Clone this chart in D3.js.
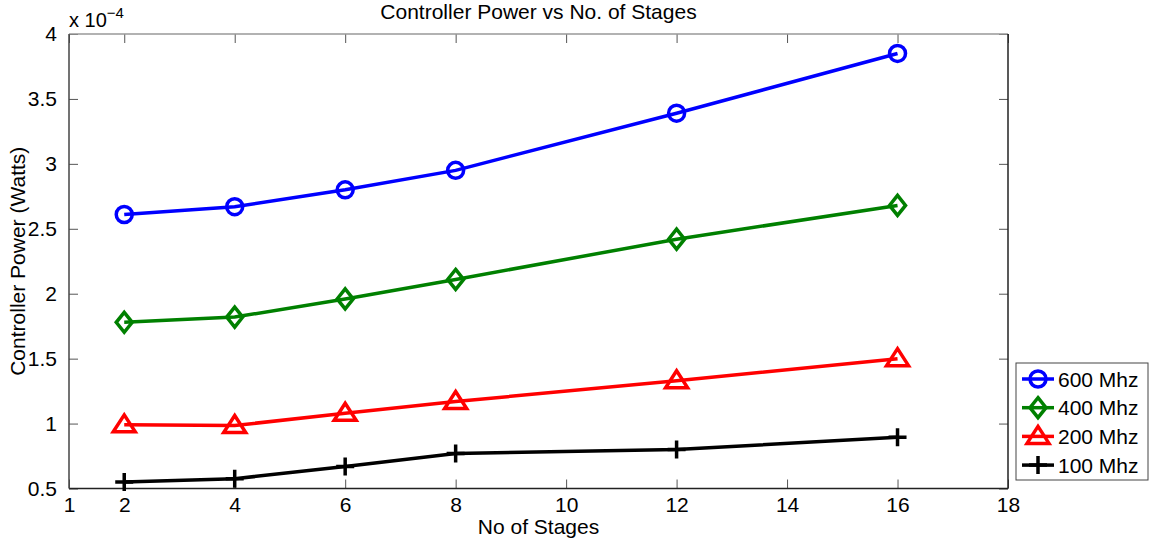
<!DOCTYPE html>
<html>
<head>
<meta charset="utf-8">
<script src="https://cdn.jsdelivr.net/npm/d3@7"></script>
<style>
  body { margin: 0; background: #fff; }
  text { font-family: "Liberation Sans", Arial, Helvetica, sans-serif; fill: #000; }
</style>
</head>
<body>
<div id="chart"></div>
<script>
// data (power in units of 1e-4 W)
var stages = [2, 4, 6, 8, 12, 16];
var p600 = [2.61, 2.67, 2.80, 2.95, 3.39, 3.85];
var p400 = [1.78, 1.82, 1.96, 2.11, 2.42, 2.68];
var p200 = [0.99, 0.985, 1.08, 1.17, 1.33, 1.50];
var p100 = [0.55, 0.575, 0.67, 0.77, 0.80, 0.895];
var seriesNames = ['600 Mhz', '400 Mhz', '200 Mhz', '100 Mhz'];
var xTicks = [1, 2, 4, 6, 8, 10, 12, 14, 16, 18];
var yTicks = [0.5, 1, 1.5, 2, 2.5, 3, 3.5, 4];

var series = [
    { name: seriesNames[0], values: p600, color: '#0000ff', marker: 'circle' },
    { name: seriesNames[1], values: p400, color: '#008000', marker: 'diamond' },
    { name: seriesNames[2], values: p200, color: '#ff0000', marker: 'triangle' },
    { name: seriesNames[3], values: p100, color: '#000000', marker: 'plus' }
];

var width = 1164, height = 544;
var plotL = 69, plotR = 1008, plotT = 34, plotB = 488.5;
var lw = 3.5;

var svg = d3.select('#chart').append('svg')
    .attr('width', width)
    .attr('height', height);

var x = d3.scaleLinear().domain([1, 18]).range([plotL, plotR]);
var y = d3.scaleLinear().domain([0.5, 4]).range([plotB, plotT]);

// axes box with inward ticks on all four sides
function styleAxis(g) {
    g.select('.domain').remove();
    g.selectAll('.tick line').attr('stroke', '#555').attr('stroke-width', 1);
    g.selectAll('text').style('font-size', '21px');
}

svg.append('g')
    .attr('transform', 'translate(0,' + plotB + ')')
    .call(d3.axisBottom(x).tickValues(xTicks).tickSize(-9).tickPadding(9).tickFormat(d3.format('d')))
    .call(styleAxis);
svg.append('g')
    .attr('transform', 'translate(0,' + plotT + ')')
    .call(d3.axisTop(x).tickValues(xTicks).tickSize(-9).tickFormat(''))
    .call(styleAxis);
svg.append('g')
    .attr('transform', 'translate(' + plotL + ',0)')
    .call(d3.axisLeft(y).tickValues(yTicks).tickSize(-9).tickPadding(12).tickFormat(d3.format('')))
    .call(styleAxis);
svg.append('g')
    .attr('transform', 'translate(' + plotR + ',0)')
    .call(d3.axisRight(y).tickValues(yTicks).tickSize(-9).tickFormat(''))
    .call(styleAxis);

svg.append('line')
    .attr('x1', plotL).attr('x2', plotR).attr('y1', plotT).attr('y2', plotT)
    .attr('stroke', '#999').attr('stroke-width', 1.5);
svg.append('line')
    .attr('x1', plotL).attr('x2', plotR).attr('y1', plotB).attr('y2', plotB)
    .attr('stroke', '#222').attr('stroke-width', 1.5);
svg.append('line')
    .attr('x1', plotL).attr('x2', plotL).attr('y1', plotT).attr('y2', plotB)
    .attr('stroke', '#444').attr('stroke-width', 1.5);
svg.append('line')
    .attr('x1', plotR).attr('x2', plotR).attr('y1', plotT).attr('y2', plotB)
    .attr('stroke', '#222').attr('stroke-width', 1.5);

// exponent label
var expo = svg.append('text').attr('x', 69).attr('y', 27).style('font-size', '20px');
expo.append('tspan').text('x 10');
expo.append('tspan').attr('dy', -9).style('font-size', '15px').text('\u22124');

// titles
svg.append('text')
    .attr('x', (plotL + plotR) / 2).attr('y', 19)
    .attr('text-anchor', 'middle')
    .style('font-size', '21px')
    .text('Controller Power vs No. of Stages');
svg.append('text')
    .attr('x', (plotL + plotR) / 2).attr('y', 534)
    .attr('text-anchor', 'middle')
    .style('font-size', '21px')
    .text('No of Stages');
svg.append('text')
    .attr('transform', 'translate(25,' + ((plotT + plotB) / 2) + ') rotate(-90)')
    .attr('text-anchor', 'middle')
    .style('font-size', '21px')
    .text('Controller Power (Watts)');

// markers
function drawMarker(g, type, color) {
    if (type === 'circle') {
        g.append('circle').attr('r', 8)
            .attr('fill', 'none').attr('stroke', color).attr('stroke-width', lw);
    } else if (type === 'diamond') {
        g.append('path').attr('d', 'M0,-10L8,0L0,10L-8,0Z')
            .attr('fill', 'none').attr('stroke', color).attr('stroke-width', lw);
    } else if (type === 'triangle') {
        g.append('path').attr('d', 'M0,-10L11,7L-11,7Z')
            .attr('fill', 'none').attr('stroke', color).attr('stroke-width', lw);
    } else {
        g.append('path').attr('d', 'M-9,0L9,0M0,-9L0,9')
            .attr('fill', 'none').attr('stroke', color).attr('stroke-width', lw);
    }
}

var line = d3.line()
    .x(function (d) { return x(d.s); })
    .y(function (d) { return y(d.v); });

series.forEach(function (s) {
    var pts = stages.map(function (st, i) { return { s: st, v: s.values[i] }; });
    svg.append('path')
        .datum(pts)
        .attr('d', line)
        .attr('fill', 'none')
        .attr('stroke', s.color)
        .attr('stroke-width', lw);
    pts.forEach(function (p) {
        var g = svg.append('g').attr('transform', 'translate(' + x(p.s) + ',' + y(p.v) + ')');
        drawMarker(g, s.marker, s.color);
    });
});

// legend
var lg = svg.append('g').attr('transform', 'translate(1016,363)');
lg.append('rect').attr('width', 132).attr('height', 117)
    .attr('fill', '#fff').attr('stroke', '#444').attr('stroke-width', 1);
series.forEach(function (s, i) {
    var yy = 16 + i * 28.7;
    lg.append('line').attr('x1', 6).attr('x2', 38).attr('y1', yy).attr('y2', yy)
        .attr('stroke', s.color).attr('stroke-width', lw);
    var g = lg.append('g').attr('transform', 'translate(22,' + yy + ')');
    drawMarker(g, s.marker, s.color);
    lg.append('text').attr('x', 42).attr('y', yy + 7.5)
        .style('font-size', '21px')
        .text(s.name);
});
</script>
</body>
</html>
